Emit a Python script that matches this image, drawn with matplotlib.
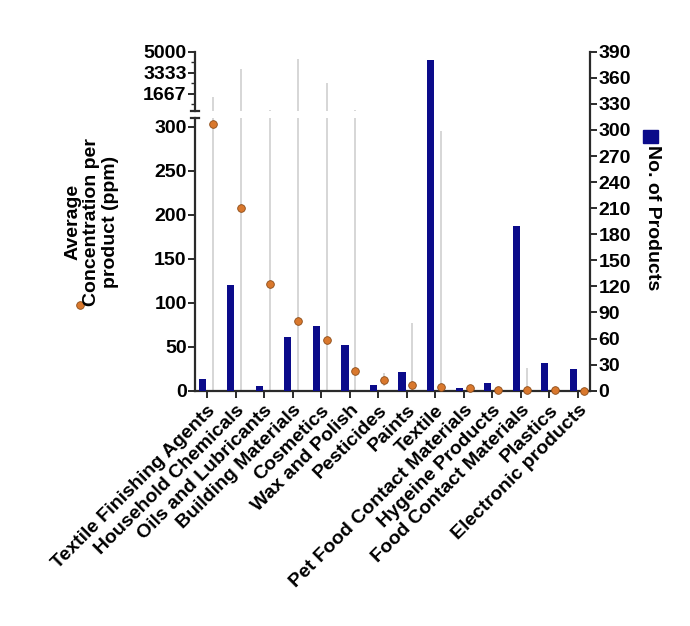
import numpy as np
import matplotlib
matplotlib.use('Agg')
import matplotlib.pyplot as plt
from matplotlib.lines import Line2D
from matplotlib.patches import Rectangle

# --- Data ---
categories = ['Textile Finishing Agents', 'Household Chemicals', 'Oils and Lubricants',
              'Building Materials', 'Cosmetics', 'Wax and Polish', 'Pesticides', 'Paints',
              'Textile', 'Pet Food Contact Materials', 'Hygeine Products',
              'Food Contact Materials', 'Plastics', 'Electronic products']
n_products = [13, 122, 5, 62, 75, 52, 7, 21, 380, 3, 9, 190, 32, 25]
avg_conc = [303, 208, 121, 79, 58, 22, 12.5, 6.5, 3.8, 3.0, 1.0, 0.5, 0.3, 0.2]
conc_sd = [1112, 3390, 240, 4316, 2425, 338, 7.5, 70, 291, 2, 1, 25.5, 0.5, 0.3]

lower_ticks = [0, 50, 100, 150, 200, 250, 300]
upper_ticks = [1667, 3333, 5000]
right_ticks = list(range(0, 391, 30))

# --- Style ---
plt.rcParams['font.family'] = ['Liberation Sans', 'DejaVu Sans']
plt.rcParams['font.weight'] = 'bold'
plt.rcParams['font.size'] = 14
bar_color = '#0b0b8a'
dot_color = '#d9782d'
dot_edge = '#8a4a16'
err_color = '#cfcfcf'
spine_color = '#2a2a2a'

W, H = 690, 626
fig = plt.figure(figsize=(W / 100, H / 100), dpi=100)

def rect(x0, y0, x1, y1):
    # pixel box -> figure fraction
    return [x0 / W, 1 - y1 / H, (x1 - x0) / W, (y1 - y0) / H]

ax_lo = fig.add_axes(rect(195, 117.7, 590, 390.7))
ax_hi = fig.add_axes(rect(195, 51.7, 590, 110.7))
ax_r = fig.add_axes(rect(195, 51.7, 590, 390.7))
ax_r.patch.set_alpha(0)

x = np.arange(len(categories))
xlim = (-0.42, len(categories) - 1 + 0.42)

# SD lines on both halves of the broken axis
for ax in (ax_lo, ax_hi):
    ax.errorbar(x + 0.2, avg_conc, yerr=conc_sd, fmt='none', ecolor=err_color,
                elinewidth=1.2, capsize=0, zorder=1)
    ax.set_xlim(xlim)
    ax.set_facecolor('none')
    for s in ('top', 'right'):
        ax.spines[s].set_visible(False)
    ax.spines['left'].set_linewidth(1.6)
    ax.spines['left'].set_color(spine_color)
    ax.tick_params(axis='y', direction='out', length=5, width=1.4, color=spine_color, pad=1)

ax_lo.plot(x + 0.2, avg_conc, 'o', color=dot_color, markeredgecolor=dot_edge,
           markeredgewidth=0.6, markersize=5.5, zorder=3, clip_on=False)

ax_lo.set_ylim(0, 310)
ax_lo.set_yticks(lower_ticks)
ax_lo.spines['bottom'].set_linewidth(1.6)
ax_lo.spines['bottom'].set_color(spine_color)
ax_lo.set_xticks(x)
ax_lo.set_xticklabels(categories, rotation=45, ha='right', rotation_mode='anchor')
ax_lo.tick_params(axis='x', direction='out', length=5, width=1.4, color=spine_color, pad=3)

ax_hi.set_ylim(300, 5000)
ax_hi.set_yticks(upper_ticks)
ax_hi.set_yticks([833, 2500, 4167], minor=True)
ax_hi.tick_params(axis='y', which='minor', direction='out', length=3, width=1.0, color=spine_color)
ax_hi.spines['bottom'].set_visible(False)
ax_hi.set_xticks([])

# small caps at the ends of the axis break
for ax, yy in ((ax_lo, 1.0), (ax_hi, 0.0)):
    ax.add_line(Line2D([-0.011, 0.011], [yy, yy], transform=ax.transAxes,
                       color=spine_color, lw=1.6, clip_on=False))

# product counts on the right axis
ax_r.bar(x - 0.165, n_products, width=0.25, color=bar_color, zorder=2)
ax_r.set_xlim(xlim)
ax_r.set_ylim(0, 390)
ax_r.set_yticks(right_ticks)
ax_r.yaxis.tick_right()
ax_r.set_xticks([])
for s in ('top', 'left', 'bottom'):
    ax_r.spines[s].set_visible(False)
ax_r.spines['right'].set_linewidth(1.6)
ax_r.spines['right'].set_color(spine_color)
ax_r.tick_params(axis='y', direction='out', length=5, width=1.4, color=spine_color, pad=1)

# --- Axis titles with legend symbols ---
fig.text(92 / W, 1 - 222 / H, 'Average\nConcentration per\nproduct (ppm)', rotation=90,
         ha='center', va='center', multialignment='center', linespacing=1.15,
         fontsize=14, fontweight='bold')
fig.add_artist(Line2D([80 / W], [1 - 305 / H], marker='o', color=dot_color,
                      markeredgecolor=dot_edge, markeredgewidth=0.6, markersize=5.5,
                      transform=fig.transFigure))
fig.add_artist(Rectangle((643 / W, 1 - 143 / H), 15 / W, 13 / H, color=bar_color,
                         transform=fig.transFigure))
fig.text(652 / W, 1 - 218 / H, 'No. of Products', rotation=270, ha='center', va='center',
         fontsize=14, fontweight='bold')

fig.savefig('out.png', dpi=100)
